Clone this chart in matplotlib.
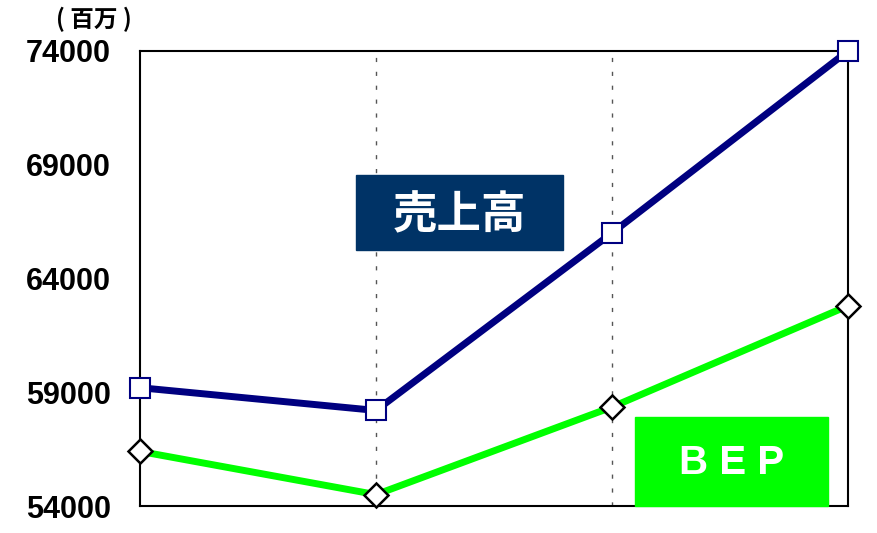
import matplotlib
matplotlib.use("Agg")
import matplotlib.pyplot as plt
from matplotlib.patches import Rectangle
from matplotlib import font_manager as fm

periods = [0, 1, 2, 3]
sales = [59200, 58200, 66000, 74000]
bep = [56400, 54500, 58350, 62800]
yticks = [54000, 59000, 64000, 69000, 74000]
unit_label = "( 百万 )"
sales_label = "売上高"
bep_label = "B E P"

W, H = 878, 533
fig = plt.figure(figsize=(W / 100, H / 100), dpi=100)
ax = fig.add_axes([140 / W, (H - 506) / H, (848 - 140) / W, (506 - 51) / H])

ax.plot(periods, sales, color="#000080", lw=5, marker="s", ms=14,
        mfc="white", mec="#000080", mew=1.5, clip_on=False, zorder=4)
ax.plot(periods, bep, color="#00FF00", lw=5, marker="D", ms=12.5,
        mfc="white", mec="black", mew=1.8, clip_on=False, zorder=4)

ax.set_xlim(0, 3)
ax.set_ylim(54000, 74000)
ax.set_yticks(yticks)
ax.set_yticklabels([str(v) for v in yticks], fontsize=22, fontweight="bold",
                   family="Liberation Sans")
ax.set_xticks([])
ax.tick_params(axis="y", length=0, pad=21)
for x in [1, 2]:
    ax.axvline(x, color="#555555", lw=1, ls=(0, (3, 7)), zorder=1)
for s in ax.spines.values():
    s.set_linewidth(1.5)
    s.set_color("black")

# unit label
fig.text(94 / W, 1 - 19 / H, unit_label, ha="center", va="center",
         fontsize=17, fontweight="bold", family=["Noto Sans CJK JP", "DejaVu Sans"])

# sales label box
fig.patches.append(Rectangle((356 / W, 1 - 250 / H), (563 - 356) / W, 75 / H,
                             transform=fig.transFigure, color="#003366", zorder=5))
fig.text((356 + 563) / 2 / W, 1 - 215 / H, sales_label, ha="center", va="center",
         color="white", fontsize=32, fontweight="bold",
         family=["Noto Sans CJK JP", "DejaVu Sans"], zorder=6)

# BEP label box
fig.patches.append(Rectangle((635 / W, 1 - 506 / H), (828 - 635) / W, 89 / H,
                             transform=fig.transFigure, color="#00FF00", zorder=5))
fig.text((635 + 828) / 2 / W, 1 - 463 / H, bep_label, ha="center", va="center",
         color="white", fontsize=29, fontweight="semibold", family="Liberation Sans",
         zorder=6)

fig.savefig("out.png", dpi=100)
